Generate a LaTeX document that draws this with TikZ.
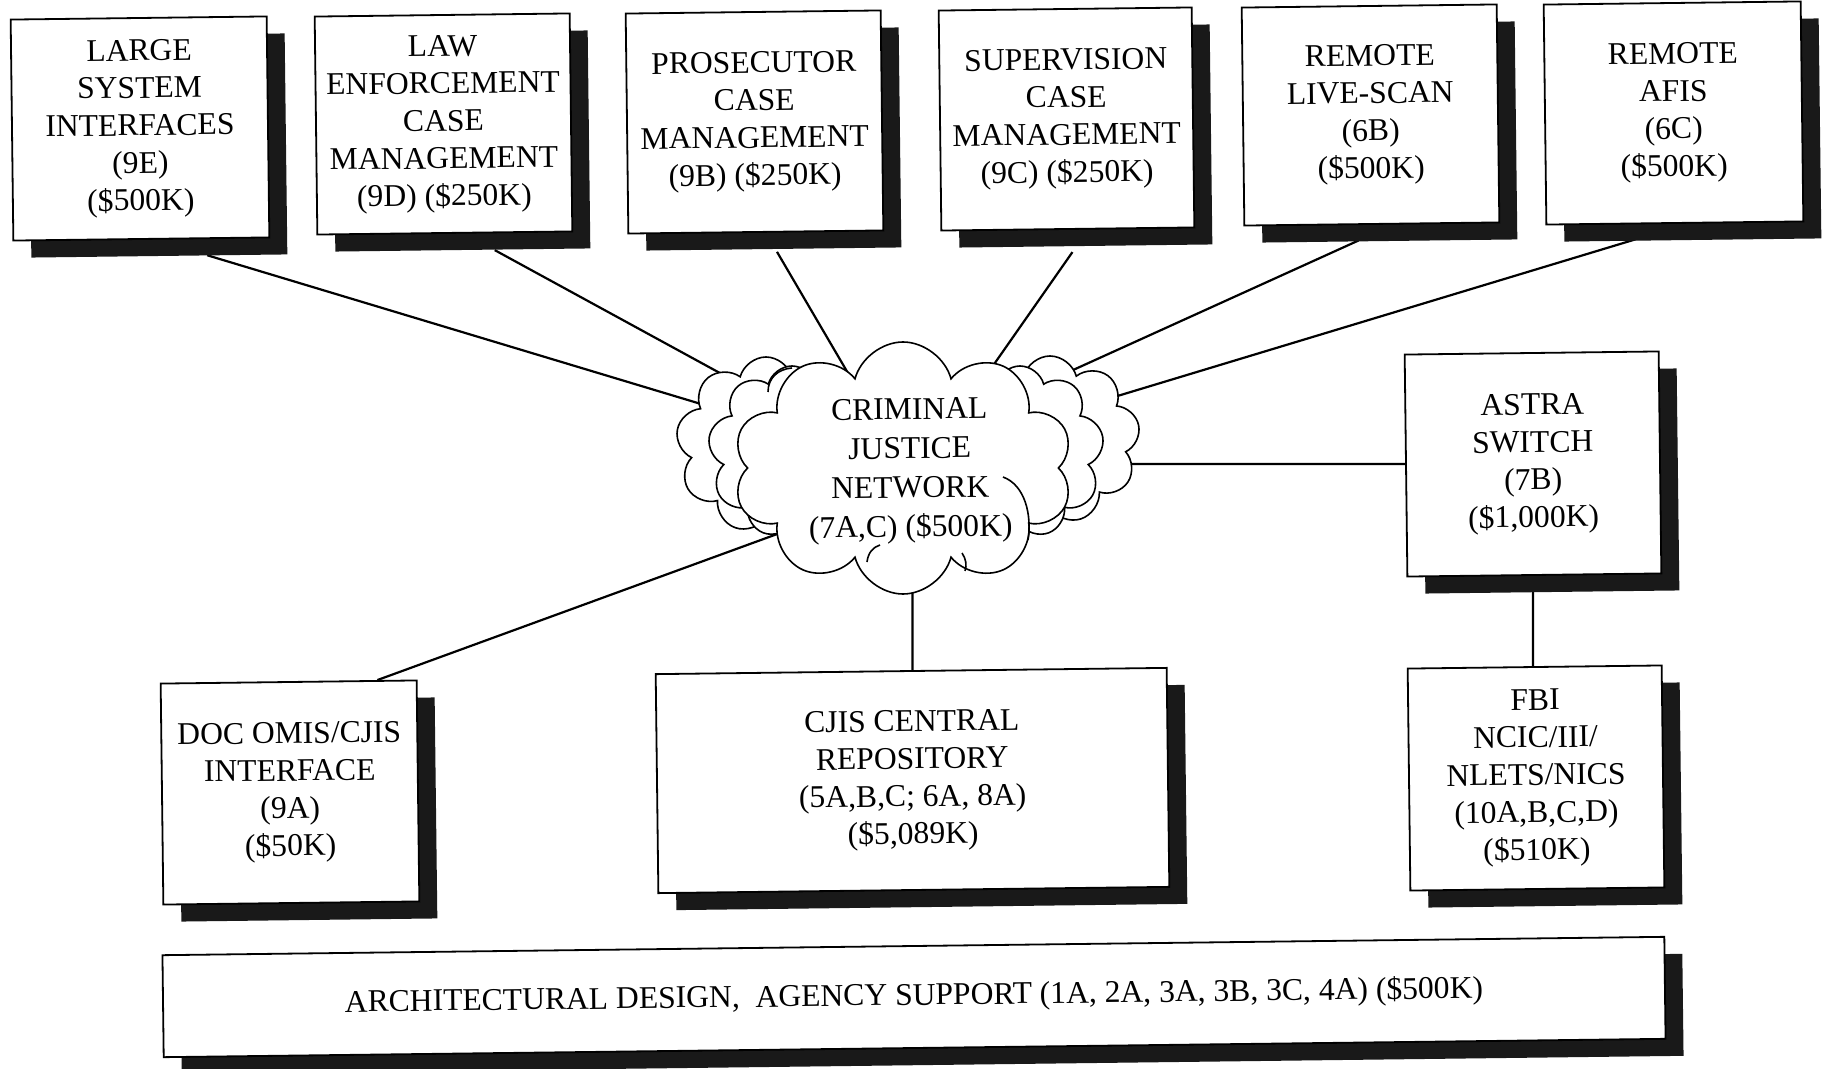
\documentclass[tikz,border=0pt]{standalone}
\usepackage{fontspec}
\setmainfont{Liberation Serif}
\usetikzlibrary{shapes.symbols,shadows,backgrounds}
\begin{document}
\begin{tikzpicture}[x=0.5pt,y=-0.5pt,
  boxstyle/.style={draw=black, line width=0.9pt, fill=white, rectangle, inner sep=0pt,
     rotate=0.7, align=center, font=\fontsize{15.8}{18.75}\selectfont,
     drop shadow={shadow xshift=9pt, shadow yshift=-8.5pt, fill=black!90, opacity=1}},
  conn/.style={line width=1.1pt, shorten <=-3pt},
  cloudstyle/.style={cloud, draw=black, fill=white, line width=0.8pt, cloud ignores aspect, inner sep=0pt},
  puffline/.style={line width=0.8pt},
  cloudtext/.style={align=center, font=\fontsize{15.8}{19.6}\selectfont, inner sep=0pt, rotate=0.7}]
\useasboundingbox (0,0) rectangle (1824,1069);

% top row
\node[boxstyle, minimum width=128pt, minimum height=110.5pt] (lsi) at (140,128.5)
  {LARGE\\SYSTEM\\INTERFACES\\(9E)\\(\$500K)};
\node[boxstyle, minimum width=127.5pt, minimum height=109pt] (lecm) at (443.5,124)
  {LAW\\ENFORCEMENT\\CASE\\MANAGEMENT\\(9D) (\$250K)};
\node[boxstyle, minimum width=127.5pt, minimum height=110pt] (pcm) at (754.5,122)
  {PROSECUTOR\\CASE\\MANAGEMENT\\(9B) (\$250K)};
\node[boxstyle, minimum width=126.5pt, minimum height=110pt] (scm) at (1066.5,119)
  {SUPERVISION\\CASE\\MANAGEMENT\\(9C) (\$250K)};
\node[boxstyle, minimum width=127.5pt, minimum height=109pt] (rls) at (1370.5,115)
  {REMOTE\\LIVE-SCAN\\(6B)\\(\$500K)};
\node[boxstyle, minimum width=128.5pt, minimum height=110pt] (rafis) at (1673.5,113)
  {REMOTE\\AFIS\\(6C)\\(\$500K)};

% right column
\node[boxstyle, minimum width=127pt, minimum height=111pt] (astra) at (1533,464)
  {ASTRA\\SWITCH\\(7B)\\(\$1,000K)};
\node[boxstyle, minimum width=127pt, minimum height=111pt] (fbi) at (1536,778)
  {FBI\\NCIC/III/\\NLETS/NICS\\(10A,B,C,D)\\(\$510K)};

% bottom row
\node[boxstyle, minimum width=128pt, minimum height=110.5pt] (doc) at (290,792.5)
  {DOC OMIS/CJIS\\INTERFACE\\(9A)\\(\$50K)};
\node[boxstyle, minimum width=255.5pt, minimum height=109.5pt] (cjis) at (912.5,780.5)
  {CJIS CENTRAL\\REPOSITORY\\(5A,B,C; 6A, 8A)\\(\$5,089K)};
\node[boxstyle, minimum width=751pt, minimum height=51pt] (arch) at (914,997)
  {ARCHITECTURAL DESIGN,\ \ AGENCY SUPPORT (1A, 2A, 3A, 3B, 3C, 4A) (\$500K)};

% cloud: back lobes, inner lobes, front cloud
\node[cloudstyle, cloud puffs=9, minimum width=90pt, minimum height=88pt] (cjnL1) at (766,445) {};
\node[cloudstyle, cloud puffs=9, minimum width=90pt, minimum height=84pt] (cjnR1) at (1050,440) {};
\node[cloudstyle, cloud puffs=9, minimum width=84pt, minimum height=86pt] (cjnL2) at (792,452) {};
\node[cloudstyle, cloud puffs=9, minimum width=84pt, minimum height=86pt] (cjnR2) at (1020,452) {};
\node[cloudstyle, cloud puffs=10, minimum width=170pt, minimum height=126pt] (cjnfront) at (903,468) {};
\node[cloudtext] (cjn) at (910,471) {CRIMINAL\\JUSTICE\\NETWORK\\(7A,C) (\$500K)};
% inner puff lines of the front cloud
\draw[puffline] (1003,477) .. controls (1025,485) and (1032,515) .. (1028,540);
\draw[puffline] (768,392) .. controls (768,378) and (778,369) .. (792,368);
\draw[puffline] (867,562) .. controls (868,553) and (873,547) .. (880,545);
\draw[puffline] (962,553) .. controls (966,559) and (967,565) .. (965,571);

% connector end points
\coordinate (s1) at (213,257);  \coordinate (e1) at (711,407);
\coordinate (s2) at (500,253);  \coordinate (e2) at (740,384);
\coordinate (s3) at (780,257);  \coordinate (e3) at (852,380);
\coordinate (s4) at (1069,257); \coordinate (e4) at (990,370);
\coordinate (s5) at (1353,243); \coordinate (e5) at (1040,385);
\coordinate (s6) at (1630,241); \coordinate (e6) at (1091,404);
\coordinate (s7) at (383,678);  \coordinate (e7) at (780,533);

\begin{pgfonlayer}{background}
  \fill[white] (0,0) rectangle (1824,1069);
  \draw[conn] (s1) -- (e1);
  \draw[conn] (s2) -- (e2);
  \draw[conn] (s3) -- (e3);
  \draw[conn] (s4) -- (e4);
  \draw[conn] (s5) -- (e5);
  \draw[conn] (s6) -- (e6);
  \draw[conn] (s7) -- (e7);
  \draw[conn] (astra) -- (astra -| cjnfront);
  \draw[conn] (cjis) -- (cjis |- cjnfront);
  \draw[conn] (astra) -- (astra |- fbi);
\end{pgfonlayer}
\end{tikzpicture}
\end{document}
